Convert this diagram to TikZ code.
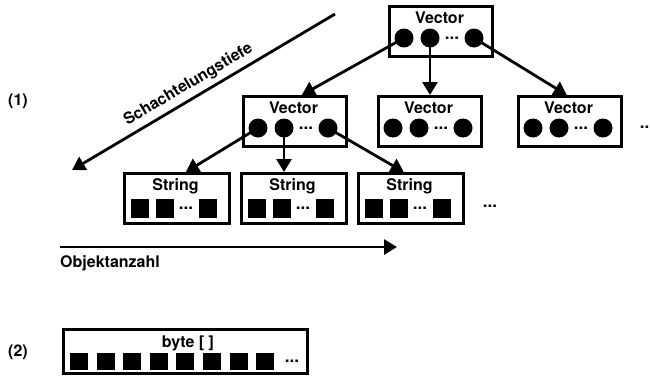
\documentclass[tikz,border=0pt]{standalone}
\usepackage{fontspec}
\setmainfont{TeX Gyre Heros}
\usetikzlibrary{arrows.meta}
\tikzset{
  box/.style={draw, line width=2.6pt, anchor=north west, inner sep=0pt, minimum width=103pt, minimum height=50pt},
  ttl/.style={font=\bfseries\fontsize{16}{16}\selectfont, inner sep=0pt, anchor=base},
  lbl/.style={font=\bfseries\fontsize{16}{16}\selectfont, inner sep=0pt},
  circ/.style={circle, fill=black, minimum size=19pt, inner sep=0pt},
  sq/.style={fill=black, minimum width=18pt, minimum height=19pt, inner sep=0pt},
  bsq/.style={fill=black, minimum width=18pt, minimum height=17pt, inner sep=0pt},
  dots/.style={font=\bfseries\fontsize{17}{17}\selectfont, inner sep=0pt},
  arr/.style={line width=2.8pt, -{Triangle[length=13pt,width=15pt]}},
}
\newcommand\VecBox[3]{%
  \node[box] (#1) at (#2,#3) {};
  \node[ttl] (#1t) at (#2+51.5,#3+18) {Vector};
  \node[circ] (#1a) at (#2+16,#3+33) {};
  \node[circ] (#1b) at (#2+42,#3+33) {};
  \node[dots] (#1d) at (#2+64,#3+33) {...};
  \node[circ] (#1c) at (#2+86,#3+33) {};
}
\newcommand\StrBox[3]{%
  \node[box, minimum width=105pt] (#1) at (#2,#3) {};
  \node[ttl] (#1t) at (#2+52.5,#3+18) {String};
  \node[sq] (#1a) at (#2+17,#3+36) {};
  \node[sq] (#1b) at (#2+42,#3+36) {};
  \node[dots] (#1d) at (#2+63,#3+36) {...};
  \node[sq] (#1c) at (#2+85,#3+36) {};
}
\begin{document}
\begin{tikzpicture}[x=1pt,y=-1pt]
\clip (0,0) rectangle (650,384);
% labels
\node[lbl] (n1) at (18,101) {(1)};
\node[lbl] (n2) at (18,352) {(2)};
% vectors
\VecBox{v0}{388}{5}
\VecBox{v1}{242}{95}
\VecBox{v2}{377}{95}
\VecBox{v3}{517}{95}
\node[dots] (vd) at (647,127) {...};
% strings
\StrBox{s1}{123}{172}
\StrBox{s2}{240}{172}
\StrBox{s3}{357}{172}
\node[dots] (sd) at (490,206) {...};
% arrows
\draw[arr] (v0a.center) -- ([xshift=7pt]v1.north);
\draw[arr] (v0b.center) -- (v0b.center |- v2.north);
\draw[arr] (v0c.center) -- ([xshift=-3pt]v3.north);
\draw[arr] (v1a.center) -- ([xshift=9pt]s1.north);
\draw[arr] (v1b.center) -- (v1b.center |- s2.north);
\draw[arr] (v1c.center) -- ([xshift=-7pt]s3.north);
% axes
\coordinate (sA) at (335,14);
\coordinate (sB) at (72,170);
\draw[arr] (sA) -- (sB) node[lbl, pos=0.53, sloped, above=5pt] (st) {Schachtelungstiefe};
\coordinate (oA) at (60,247);
\coordinate (oB) at (397,247);
\draw[arr] (oA) -- (oB);
\node[lbl, anchor=base west] (ot) at (60,267) {Objektanzahl};
% byte array
\node[box, minimum width=244pt, minimum height=44pt] (b) at (62,328) {};
\node[ttl] (bt) at (188,347) {byte [ ]};
\foreach \i in {0,...,7} {
  \node[bsq] (b\i) at (79+26.6*\i,361) {};
}
\node[dots] (bd) at (292,361) {...};
\end{tikzpicture}
\end{document}
